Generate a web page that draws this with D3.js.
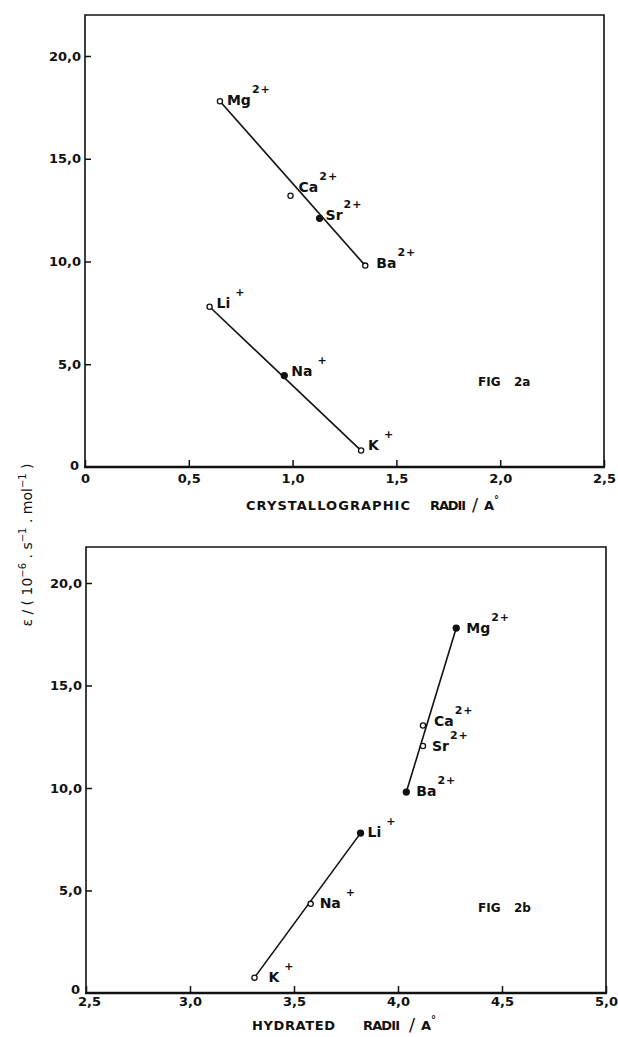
<!DOCTYPE html>
<html>
<head>
<meta charset="utf-8">
<script src="https://cdn.jsdelivr.net/npm/d3@7"></script>
<style>
  body { margin: 0; background: #fff; }
  svg text { font-family: "DejaVu Sans", sans-serif; fill: #111; }
</style>
</head>
<body>
<div class="contenedor_grafico"></div>
<script>
// ions
const ions2 = ["Mg", "Ca", "Sr", "Ba"];
const ions1 = ["Li", "Na", "K"];

// Fig 2a : crystallographic radii (A) vs epsilon
const crystRadii2 = [0.65, 0.99, 1.13, 1.35];
const epsCryst2 = [17.8, 13.2, 12.1, 9.8];
const crystRadii1 = [0.60, 0.96, 1.33];
const epsCryst1 = [7.8, 4.45, 0.8];

// Fig 2b : hydrated radii (A) vs epsilon
const hydRadii2 = [4.28, 4.12, 4.12, 4.04];
const epsHyd2 = [17.8, 13.05, 12.05, 9.8];
const hydRadii1 = [3.82, 3.58, 3.31];
const epsHyd1 = [7.8, 4.35, 0.75];

const xTicksA = [0, 0.5, 1.0, 1.5, 2.0, 2.5];
const xTicksB = [2.5, 3.0, 3.5, 4.0, 4.5, 5.0];
const yTicks = [0, 5, 10, 15, 20];

const fmt = (d) => (d === 0 ? "0" : d3.format(".1f")(d).replace(".", ","));

const svg = d3
  .select(".contenedor_grafico")
  .append("svg")
  .attr("width", 618)
  .attr("height", 1037);

function drawPanel(p) {
  const x = d3.scaleLinear().domain(p.xDomain).range([p.left, p.right]);
  const y = d3.scaleLinear().domain([0, 20]).range([p.y0, p.y20]);
  const g = svg.append("g");

  // frame
  g.append("path")
    .attr("d", `M${p.left},${p.y0}V${p.top}H${p.right}V${p.y0}`)
    .attr("fill", "none")
    .attr("stroke", "#111")
    .attr("stroke-width", 1.6);
  g.append("line")
    .attr("x1", p.left - 1)
    .attr("x2", p.right + 1)
    .attr("y1", p.y0)
    .attr("y2", p.y0)
    .attr("stroke", "#111")
    .attr("stroke-width", 2.6);

  const yAxis = g
    .append("g")
    .attr("transform", `translate(${p.left},0)`)
    .call(d3.axisLeft(y).tickValues(yTicks).tickSize(-6).tickPadding(4).tickFormat(fmt));
  const xAxis = g
    .append("g")
    .attr("transform", `translate(0,${p.y0})`)
    .call(d3.axisBottom(x).tickValues(p.xTicks).tickSize(-7).tickPadding(p.xPad).tickFormat(fmt));

  [yAxis, xAxis].forEach((a) => {
    a.select(".domain").remove();
    a.selectAll(".tick line").attr("stroke", "#111").attr("stroke-width", 1.5);
    a.selectAll(".tick text")
      .attr("fill", "#111")
      .style("font-family", "DejaVu Sans, sans-serif")
      .style("font-size", "13px")
      .style("font-weight", "bold");
  });
  const zeroTick = yAxis.selectAll(".tick").filter((d) => d === 0);
  zeroTick.select("line").remove();
  zeroTick.select("text").attr("x", -6).attr("dy", p.zeroDy);
  xAxis.selectAll(".tick text").filter((d, i) => i === 0).attr("x", p.firstXShift);

  // series lines and markers
  p.series.forEach((s) => {
    const pts = s.r.map((r, i) => [x(r), y(s.e[i])]);
    g.append("path")
      .attr("d", d3.line()([pts[0], pts[pts.length - 1]]))
      .attr("stroke", "#111")
      .attr("stroke-width", 1.6)
      .attr("fill", "none");

    pts.forEach((pt, i) => {
      const filled = s.filled[i];
      g.append("circle")
        .attr("cx", pt[0])
        .attr("cy", pt[1])
        .attr("r", filled ? 3 : 2.6)
        .attr("fill", filled ? "#111" : "#fff")
        .attr("stroke", "#111")
        .attr("stroke-width", 1.3);

      const off = s.offsets[i];
      const t = g
        .append("text")
        .attr("x", pt[0] + off[0])
        .attr("y", pt[1] + off[1])
        .style("font-size", "14px")
        .style("font-weight", "bold");
      t.append("tspan").text(s.names[i]);
      t.append("tspan")
        .attr("dx", s.charge === "+" ? 5 : 1)
        .attr("dy", -12)
        .style("font-size", "11px")
        .attr("letter-spacing", 1)
        .text(s.charge);
    });
  });

  // axis title
  const tt = g
    .append("text")
    .attr("y", p.titleY)
    .style("font-size", "13px")
    .style("font-weight", "bold");
  tt.append("tspan").attr("x", p.title[0][0]).attr("textLength", p.title[0][1]).text(p.title[0][2]);
  tt.append("tspan").attr("x", p.title[1][0]).attr("textLength", p.title[1][1]).text("RADII");
  g.append("text")
    .attr("x", p.title[2])
    .attr("y", p.titleY + 1)
    .style("font-size", "18px")
    .text("/");
  const at = g
    .append("text")
    .attr("x", p.title[2] + 12)
    .attr("y", p.titleY)
    .style("font-size", "13px")
    .style("font-weight", "bold");
  at.append("tspan").text("A");
  at.append("tspan").attr("dy", -7).style("font-size", "10px").text("°");

  // figure tag
  const ft = g
    .append("text")
    .attr("y", p.figY)
    .style("font-size", "12px")
    .style("font-weight", "bold");
  ft.append("tspan").attr("x", 478).text("FIG");
  ft.append("tspan").attr("x", 514).text(p.fig);
}

drawPanel({
  left: 85, right: 604, top: 15, y0: 467, y20: 56,
  xDomain: [0, 2.5], xTicks: xTicksA, xPad: 7,
  zeroDy: "0.2em", firstXShift: 0,
  titleY: 510,
  title: [[246, 164, "CRYSTALLOGRAPHIC"], [430, 36], 472],
  fig: "2a", figY: 386,
  series: [
    {
      r: crystRadii2, e: epsCryst2, names: ions2, charge: "2+",
      filled: [false, false, true, false],
      offsets: [[7, 4], [8, -4], [6, 2], [11, 2]],
    },
    {
      r: crystRadii1, e: epsCryst1, names: ions1, charge: "+",
      filled: [false, true, false],
      offsets: [[7, 1], [7, 0], [7, -1]],
    },
  ],
});

drawPanel({
  left: 86, right: 606, top: 547, y0: 993, y20: 583,
  xDomain: [2.5, 5.0], xTicks: xTicksB, xPad: 4,
  zeroDy: "0.05em", firstXShift: 3,
  titleY: 1030,
  title: [[252, 83, "HYDRATED"], [363, 37], 409],
  fig: "2b", figY: 912,
  series: [
    {
      r: hydRadii2, e: epsHyd2, names: ions2, charge: "2+",
      filled: [true, false, false, true],
      offsets: [[10, 5], [11, 1], [9, 5], [10, 4]],
    },
    {
      r: hydRadii1, e: epsHyd1, names: ions1, charge: "+",
      filled: [true, false, false],
      offsets: [[7, 4], [9, 4], [14, 4]],
    },
  ],
});

// shared y axis label
const yl = svg
  .append("text")
  .attr("transform", "translate(32,545) rotate(-90)")
  .attr("text-anchor", "middle")
  .attr("fill", "#111")
  .style("font-size", "14px");
yl.append("tspan").text("ε / ( 10");
yl.append("tspan").attr("dy", -6).style("font-size", "10px").text("−6");
yl.append("tspan").attr("dy", 6).text(" . s");
yl.append("tspan").attr("dy", -6).style("font-size", "10px").text("−1");
yl.append("tspan").attr("dy", 6).text(" . mol");
yl.append("tspan").attr("dy", -6).style("font-size", "10px").text("−1");
yl.append("tspan").attr("dy", 6).text(" )");
</script>
</body>
</html>
